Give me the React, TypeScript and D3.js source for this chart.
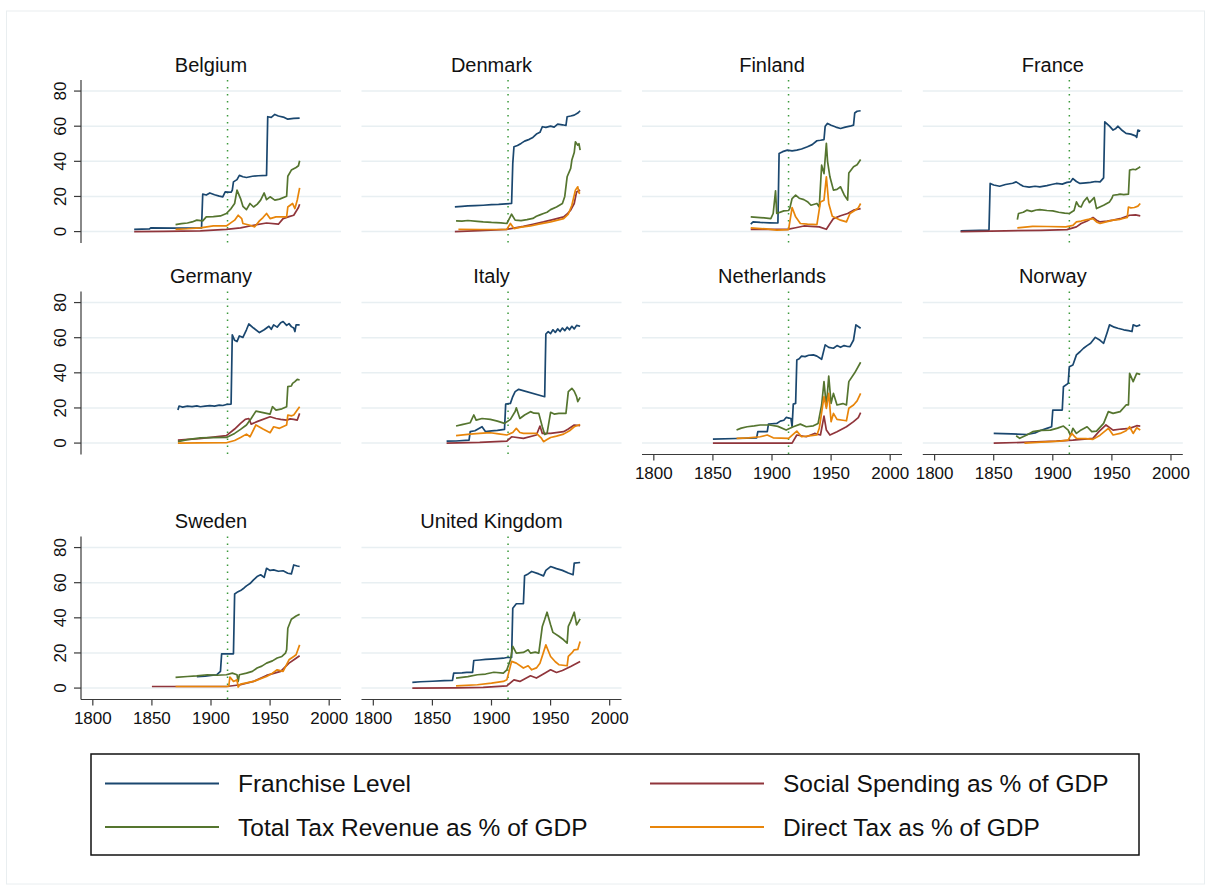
import React from 'react';
import * as d3 from 'd3';

type Pt = [number, number];

// ---- labels, ticks, colours ----
const countries = [
  'Belgium', 'Denmark', 'Finland', 'France', 'Germany',
  'Italy', 'Netherlands', 'Norway', 'Sweden', 'United Kingdom',
];
const seriesNames = [
  'Franchise Level',
  'Social Spending as % of GDP',
  'Total Tax Revenue as % of GDP',
  'Direct Tax as % of GDP',
];
const seriesColors = ['#1a476f', '#90353b', '#55752f', '#e8850a'];
const yTicks = [0, 20, 40, 60, 80];
const xTicks = [1800, 1850, 1900, 1950, 2000];
const markerYear = 1914;

// ---- Belgium ----
const belgiumFranchise: Pt[] = [[1835,1.3],[1848,1.5],[1849,2.1],[1870,2.0],[1892,2.1],[1893,21.3],[1896,20.8],[1899,22.0],[1903,21.0],[1907,20.2],[1910,19.8],[1912,22.6],[1917,22.4],[1918,23.5],[1919,28.3],[1922,29.6],[1924,32.0],[1927,31.2],[1930,30.8],[1935,31.5],[1940,31.8],[1947,32.0],[1948,65.4],[1951,65.0],[1954,66.7],[1957,65.8],[1962,65.0],[1965,64.0],[1970,64.4],[1975,64.6]];
const belgiumSocial: Pt[] = [[1835,0],[1860,0.1],[1891,0.4],[1913,1.3],[1925,2.1],[1936,3.6],[1947,4.9],[1957,4.2],[1961,7.4],[1966,8.5],[1970,9.3],[1974,13.7],[1975,15.6]];
const belgiumTax: Pt[] = [[1870,4.0],[1875,4.5],[1880,4.9],[1884,5.5],[1888,6.5],[1893,6.1],[1896,8.4],[1902,8.5],[1908,8.9],[1913,10.3],[1917,13.1],[1920,16.0],[1922,23.6],[1925,18.8],[1927,14.4],[1930,12.5],[1933,16.0],[1936,14.0],[1939,15.5],[1942,17.9],[1945,22.0],[1947,18.2],[1950,19.8],[1954,17.9],[1958,18.5],[1964,20.1],[1965,31.5],[1968,35.0],[1972,36.5],[1974,37.5],[1975,40.3]];
const belgiumDirect: Pt[] = [[1870,1.3],[1880,1.6],[1891,2.1],[1902,3.2],[1913,3.2],[1917,5.1],[1920,6.5],[1923,9.3],[1926,7.4],[1927,4.6],[1933,3.6],[1937,2.7],[1941,6.1],[1944,8.0],[1947,10.3],[1950,7.4],[1955,8.4],[1964,8.4],[1965,14.0],[1969,16.0],[1971,13.1],[1973,18.0],[1975,24.9]];

// ---- Denmark ----
const denmarkFranchise: Pt[] = [[1869,14.1],[1875,14.4],[1880,14.6],[1886,14.8],[1893,15.0],[1900,15.3],[1906,15.5],[1912,15.8],[1917,16.0],[1918,38.8],[1919,48.3],[1922,49.0],[1925,50.2],[1928,51.5],[1932,52.5],[1935,53.6],[1938,55.5],[1941,56.5],[1943,59.7],[1946,59.3],[1950,60.0],[1953,59.5],[1956,61.2],[1960,60.8],[1963,60.4],[1964,65.4],[1967,65.8],[1970,66.3],[1973,67.5],[1975,68.8]];
const denmarkSocial: Pt[] = [[1869,0],[1890,0.5],[1913,1.3],[1927,3.0],[1935,4.2],[1944,5.5],[1952,6.8],[1961,8.4],[1964,10.0],[1967,12.2],[1970,16.0],[1972,22.6],[1975,23.6]];
const denmarkTax: Pt[] = [[1870,6.1],[1875,6.0],[1880,6.3],[1888,5.8],[1893,5.5],[1900,5.2],[1908,5.0],[1913,4.6],[1917,9.9],[1920,6.5],[1925,6.2],[1930,6.8],[1935,7.5],[1938,8.7],[1941,9.5],[1944,10.3],[1947,11.0],[1950,12.5],[1955,14.0],[1960,16.0],[1962,20.0],[1964,31.2],[1967,36.0],[1968,40.7],[1970,45.0],[1971,51.1],[1973,49.2],[1974,50.0],[1975,46.4]];
const denmarkDirect: Pt[] = [[1872,1.3],[1890,1.2],[1913,1.3],[1916,4.6],[1919,1.7],[1925,2.5],[1933,3.2],[1940,4.2],[1950,5.5],[1961,7.4],[1965,10.0],[1968,15.0],[1971,23.6],[1973,25.5],[1974,22.0],[1975,21.7]];

// ---- Finland ----
const finlandFranchise: Pt[] = [[1882,4.2],[1884,5.5],[1890,5.2],[1898,5.0],[1905,4.9],[1906,44.5],[1909,45.5],[1913,46.4],[1917,46.0],[1921,46.4],[1925,47.0],[1930,48.3],[1934,49.5],[1938,51.7],[1941,52.0],[1944,52.4],[1945,60.0],[1947,61.6],[1950,60.5],[1954,59.5],[1958,58.7],[1962,59.5],[1966,60.0],[1969,60.6],[1970,67.5],[1972,68.5],[1975,68.8]];
const finlandSocial: Pt[] = [[1882,1.3],[1900,1.3],[1913,1.3],[1920,2.2],[1927,3.2],[1933,3.0],[1940,2.7],[1946,1.3],[1949,4.5],[1952,7.4],[1958,9.0],[1964,10.3],[1969,12.2],[1975,13.1]];
const finlandTax: Pt[] = [[1882,8.4],[1890,8.0],[1899,7.4],[1901,10.3],[1903,23.2],[1904,10.3],[1910,11.8],[1914,12.0],[1915,13.1],[1917,18.8],[1920,20.7],[1923,19.0],[1927,18.2],[1930,17.0],[1933,15.0],[1938,16.0],[1940,14.0],[1942,37.8],[1944,33.0],[1946,50.2],[1947,40.0],[1949,31.2],[1952,23.6],[1955,24.0],[1958,25.5],[1961,21.0],[1964,17.9],[1965,33.4],[1969,36.9],[1972,38.0],[1975,41.0]];
const finlandDirect: Pt[] = [[1882,2.1],[1895,1.5],[1904,0.8],[1914,1.1],[1917,13.7],[1920,8.4],[1924,4.6],[1930,4.2],[1938,4.0],[1941,16.9],[1944,17.9],[1946,31.2],[1948,16.0],[1951,8.7],[1955,7.5],[1958,6.5],[1963,5.5],[1966,10.3],[1970,12.0],[1973,13.5],[1975,16.0]];

// ---- France ----
const franceFranchise: Pt[] = [[1822,0.4],[1846,0.8],[1847,27.4],[1850,26.5],[1855,25.8],[1860,26.8],[1866,27.5],[1869,28.3],[1872,27.0],[1875,25.8],[1880,25.3],[1885,25.8],[1889,25.5],[1895,26.2],[1899,26.8],[1903,27.4],[1908,27.0],[1912,28.0],[1915,28.3],[1917,30.2],[1920,28.5],[1923,27.4],[1928,27.7],[1932,28.0],[1936,28.5],[1940,28.3],[1943,30.6],[1944,62.5],[1948,60.0],[1951,57.8],[1953,58.5],[1955,60.0],[1958,58.0],[1962,55.9],[1966,55.5],[1970,54.5],[1971,53.6],[1972,57.8],[1974,57.2]];
const franceSocial: Pt[] = [[1822,0],[1860,0.4],[1890,0.7],[1912,1.1],[1920,2.7],[1924,4.6],[1929,6.0],[1934,8.0],[1937,6.5],[1940,5.5],[1946,6.0],[1951,6.5],[1958,7.5],[1965,9.3],[1970,9.5],[1974,8.9]];
const franceTax: Pt[] = [[1870,6.8],[1871,10.3],[1875,11.0],[1878,12.2],[1882,11.5],[1886,12.3],[1889,12.5],[1895,12.0],[1900,11.8],[1905,11.0],[1910,10.5],[1914,10.3],[1918,12.0],[1920,16.9],[1922,14.5],[1924,14.0],[1926,17.0],[1929,19.4],[1931,16.5],[1933,17.9],[1935,19.4],[1937,13.1],[1943,15.0],[1948,16.9],[1950,19.0],[1951,20.7],[1955,21.0],[1957,21.3],[1960,21.0],[1964,21.3],[1965,35.0],[1968,35.5],[1970,35.2],[1972,36.0],[1974,36.9]];
const franceDirect: Pt[] = [[1870,2.1],[1883,3.0],[1895,2.9],[1911,2.7],[1917,3.5],[1920,5.5],[1924,6.0],[1929,6.8],[1934,7.4],[1937,5.5],[1940,4.6],[1945,5.5],[1951,6.5],[1957,7.0],[1963,8.0],[1964,14.0],[1966,13.5],[1969,13.7],[1972,14.5],[1974,16.0]];

// ---- Germany ----
const germanyFranchise: Pt[] = [[1872,18.8],[1873,21.1],[1876,20.5],[1880,21.0],[1884,20.8],[1888,21.2],[1891,20.7],[1895,21.0],[1899,21.3],[1903,21.0],[1907,21.6],[1910,21.4],[1913,22.0],[1917,22.2],[1918,61.6],[1920,58.5],[1922,57.8],[1924,61.0],[1927,60.2],[1930,64.5],[1932,67.8],[1936,65.5],[1941,62.9],[1945,64.5],[1949,66.5],[1951,64.8],[1953,67.3],[1956,66.0],[1959,68.5],[1961,69.2],[1964,67.0],[1966,68.0],[1968,66.3],[1970,65.5],[1971,63.5],[1972,67.3],[1975,67.3]];
const germanySocial: Pt[] = [[1872,1.7],[1890,2.5],[1900,3.2],[1913,4.2],[1920,8.0],[1925,11.2],[1929,13.5],[1932,14.0],[1934,10.8],[1940,12.5],[1950,15.0],[1955,14.0],[1959,13.5],[1964,13.1],[1967,13.8],[1970,13.5],[1973,13.1],[1975,16.9]];
const germanyTax: Pt[] = [[1872,0.8],[1880,2.0],[1891,3.0],[1900,3.1],[1913,3.2],[1920,5.5],[1925,7.8],[1930,10.3],[1934,14.0],[1938,18.2],[1950,16.5],[1952,20.7],[1955,18.8],[1960,19.5],[1964,20.7],[1965,32.1],[1968,32.5],[1969,34.0],[1971,35.0],[1973,36.3],[1975,35.9]];
const germanyDirect: Pt[] = [[1872,0],[1890,0.1],[1913,0.2],[1920,1.5],[1925,3.2],[1930,5.1],[1933,3.6],[1938,10.3],[1944,8.0],[1950,5.9],[1953,9.3],[1958,8.4],[1964,10.3],[1965,16.0],[1968,15.5],[1970,16.0],[1973,18.8],[1975,20.7]];

// ---- Italy ----
const italyFranchise: Pt[] = [[1862,1.1],[1870,1.2],[1881,1.7],[1882,6.5],[1886,7.0],[1892,9.3],[1895,6.5],[1900,7.0],[1905,7.2],[1911,7.8],[1912,22.2],[1916,22.6],[1918,26.5],[1920,29.3],[1923,30.6],[1945,26.4],[1946,62.1],[1948,63.5],[1950,62.3],[1952,64.5],[1954,63.0],[1956,65.0],[1958,63.5],[1960,65.5],[1962,64.0],[1964,66.0],[1966,64.5],[1968,66.5],[1970,65.0],[1972,67.0],[1975,66.5]];
const italySocial: Pt[] = [[1862,0],[1890,0.4],[1913,1.1],[1917,3.6],[1927,2.7],[1938,4.6],[1941,9.7],[1943,5.5],[1950,5.5],[1961,6.5],[1965,8.0],[1970,10.3],[1975,9.9]];
const italyTax: Pt[] = [[1870,9.7],[1875,10.5],[1882,11.6],[1885,16.0],[1887,13.1],[1892,14.0],[1899,13.5],[1905,12.5],[1911,11.2],[1916,13.5],[1920,18.0],[1921,20.1],[1924,14.0],[1928,16.0],[1933,17.9],[1936,17.0],[1940,16.9],[1943,9.3],[1945,4.9],[1947,5.5],[1950,17.5],[1953,16.5],[1957,16.9],[1963,16.9],[1965,29.3],[1968,31.2],[1970,29.5],[1972,26.4],[1973,23.6],[1975,26.0]];
const italyDirect: Pt[] = [[1870,4.2],[1882,5.1],[1890,5.5],[1899,5.9],[1906,5.2],[1913,4.6],[1918,6.0],[1921,8.4],[1924,6.0],[1927,5.5],[1938,5.5],[1942,3.0],[1944,0.8],[1947,2.0],[1950,3.2],[1955,4.0],[1961,5.1],[1966,7.0],[1970,9.3],[1975,10.6]];

// ---- Netherlands ----
const netherlandsFranchise: Pt[] = [[1850,2.3],[1870,2.6],[1887,3.0],[1888,6.5],[1896,6.5],[1897,10.8],[1900,11.0],[1904,11.2],[1907,12.5],[1910,13.0],[1912,14.6],[1916,14.0],[1917,9.3],[1918,22.2],[1920,22.6],[1921,47.3],[1923,48.0],[1925,49.5],[1928,49.2],[1931,50.0],[1935,50.2],[1938,49.5],[1942,47.7],[1945,55.9],[1948,54.5],[1952,54.0],[1955,55.5],[1958,54.5],[1961,55.5],[1964,55.0],[1966,54.9],[1969,58.7],[1971,67.3],[1975,65.4]];
const netherlandsSocial: Pt[] = [[1850,0],[1917,0],[1921,4.6],[1929,3.6],[1936,5.5],[1941,4.6],[1944,15.4],[1946,7.4],[1949,4.6],[1955,6.5],[1963,9.3],[1969,12.2],[1973,14.5],[1975,17.3]];
const netherlandsTax: Pt[] = [[1870,7.4],[1874,8.5],[1879,9.3],[1885,9.8],[1890,10.3],[1898,10.3],[1905,9.5],[1912,7.4],[1918,9.3],[1924,10.8],[1929,9.3],[1935,9.8],[1939,11.2],[1942,21.7],[1944,35.0],[1946,20.7],[1948,38.2],[1950,22.6],[1952,28.3],[1955,21.7],[1960,22.5],[1963,21.7],[1965,35.0],[1970,40.0],[1975,46.0]];
const netherlandsDirect: Pt[] = [[1870,2.7],[1880,3.0],[1890,3.6],[1896,4.6],[1901,3.0],[1914,2.7],[1921,6.8],[1925,3.6],[1933,4.2],[1938,4.6],[1940,8.4],[1944,26.4],[1946,19.8],[1948,28.3],[1950,12.2],[1952,16.9],[1955,13.5],[1960,13.0],[1963,12.7],[1965,19.8],[1969,21.7],[1972,24.0],[1975,28.3]];

// ---- Norway ----
const norwayFranchise: Pt[] = [[1850,5.5],[1865,5.2],[1878,4.9],[1885,5.8],[1889,7.0],[1895,8.4],[1899,9.3],[1900,18.8],[1908,18.8],[1909,32.1],[1913,34.0],[1914,43.5],[1917,44.5],[1920,50.2],[1923,52.0],[1926,54.0],[1929,55.5],[1932,56.8],[1936,60.2],[1940,58.5],[1943,56.8],[1946,63.0],[1948,67.3],[1952,66.0],[1955,65.4],[1960,64.5],[1964,64.0],[1967,63.5],[1968,67.3],[1971,66.5],[1974,67.3]];
const norwaySocial: Pt[] = [[1850,0],[1880,0.5],[1903,1.1],[1917,1.7],[1934,2.7],[1939,6.5],[1945,10.3],[1951,7.4],[1958,8.0],[1965,8.4],[1971,9.9],[1974,9.7]];
const norwayTax: Pt[] = [[1869,4.2],[1872,2.7],[1878,4.6],[1883,6.5],[1890,7.2],[1898,7.4],[1904,8.5],[1909,9.7],[1913,7.4],[1915,4.2],[1917,8.4],[1920,5.5],[1924,7.5],[1929,9.3],[1933,6.5],[1937,6.8],[1943,11.2],[1947,17.9],[1951,16.9],[1957,17.9],[1962,21.7],[1964,21.7],[1965,39.7],[1968,35.0],[1971,39.7],[1974,39.1]];
const norwayDirect: Pt[] = [[1876,0],[1890,0.5],[1906,1.1],[1913,1.7],[1916,5.5],[1920,2.7],[1928,2.5],[1934,2.1],[1940,4.5],[1947,8.4],[1951,4.6],[1957,5.5],[1962,7.0],[1965,9.3],[1968,5.5],[1971,8.7],[1974,7.4]];

// ---- Sweden ----
const swedenFranchise: Pt[] = [[1888,6.5],[1895,6.8],[1900,7.2],[1905,7.6],[1908,9.5],[1909,19.5],[1919,19.5],[1920,53.6],[1922,54.5],[1925,55.5],[1928,57.0],[1930,58.2],[1933,59.5],[1936,61.6],[1939,63.5],[1942,64.5],[1945,63.0],[1947,68.2],[1950,67.0],[1953,67.3],[1957,66.5],[1961,66.8],[1965,65.4],[1968,65.0],[1970,70.1],[1973,69.5],[1975,69.2]];
const swedenSocial: Pt[] = [[1850,0.9],[1913,0.9],[1925,1.9],[1936,3.8],[1947,7.2],[1959,9.5],[1966,14.2],[1972,17.0],[1975,18.4]];
const swedenTax: Pt[] = [[1870,6.1],[1880,6.6],[1888,7.0],[1897,7.6],[1905,7.3],[1913,7.6],[1918,8.5],[1922,7.6],[1923,3.8],[1924,7.6],[1930,8.5],[1935,9.5],[1939,11.4],[1943,12.5],[1947,14.2],[1952,15.5],[1956,17.1],[1960,18.0],[1963,19.9],[1964,21.8],[1965,34.1],[1968,39.2],[1972,41.0],[1975,42.1]];
const swedenDirect: Pt[] = [[1870,0.9],[1897,0.9],[1915,0.9],[1916,6.3],[1919,3.8],[1922,4.7],[1923,0.6],[1925,2.3],[1936,3.8],[1947,6.6],[1952,8.5],[1956,10.4],[1961,9.5],[1966,16.1],[1970,18.0],[1972,19.0],[1975,24.6]];

// ---- United Kingdom ----
const ukFranchise: Pt[] = [[1833,3.2],[1840,3.6],[1850,3.9],[1860,4.2],[1867,4.4],[1868,8.5],[1875,8.7],[1879,8.9],[1884,8.9],[1885,15.7],[1890,16.0],[1895,16.3],[1899,16.5],[1905,16.8],[1910,17.0],[1913,17.4],[1917,17.4],[1918,45.5],[1921,48.0],[1927,48.0],[1928,63.9],[1931,65.0],[1934,66.4],[1940,65.0],[1944,63.9],[1946,67.0],[1950,69.2],[1955,68.0],[1960,67.0],[1965,65.5],[1969,64.5],[1970,71.1],[1975,71.5]];
const ukSocial: Pt[] = [[1833,0],[1870,0.1],[1893,0.4],[1913,1.3],[1919,4.7],[1924,3.8],[1933,7.0],[1938,5.7],[1945,8.5],[1950,10.4],[1955,8.9],[1960,10.0],[1967,12.3],[1975,15.2]];
const ukTax: Pt[] = [[1870,5.7],[1880,6.5],[1888,7.6],[1895,8.0],[1902,9.0],[1910,8.5],[1913,10.4],[1916,16.1],[1918,23.7],[1921,19.9],[1927,20.3],[1931,21.8],[1933,19.9],[1937,20.5],[1940,19.9],[1943,35.1],[1945,39.0],[1947,43.2],[1950,36.0],[1952,31.7],[1957,29.5],[1961,27.5],[1964,25.6],[1965,35.1],[1967,38.0],[1970,43.2],[1972,36.0],[1975,39.4]];
const ukDirect: Pt[] = [[1870,1.3],[1888,1.9],[1900,2.8],[1910,3.8],[1913,4.7],[1917,15.2],[1921,14.2],[1927,11.4],[1931,12.7],[1934,10.4],[1938,11.5],[1941,14.2],[1946,24.6],[1950,18.0],[1954,15.0],[1957,13.3],[1964,12.7],[1965,18.0],[1968,20.0],[1970,21.8],[1973,22.0],[1975,26.5]];

// series order per panel follows seriesNames
const panelSeries: Pt[][][] = [
  [belgiumFranchise, belgiumSocial, belgiumTax, belgiumDirect],
  [denmarkFranchise, denmarkSocial, denmarkTax, denmarkDirect],
  [finlandFranchise, finlandSocial, finlandTax, finlandDirect],
  [franceFranchise, franceSocial, franceTax, franceDirect],
  [germanyFranchise, germanySocial, germanyTax, germanyDirect],
  [italyFranchise, italySocial, italyTax, italyDirect],
  [netherlandsFranchise, netherlandsSocial, netherlandsTax, netherlandsDirect],
  [norwayFranchise, norwaySocial, norwayTax, norwayDirect],
  [swedenFranchise, swedenSocial, swedenTax, swedenDirect],
  [ukFranchise, ukSocial, ukTax, ukDirect],
];

// ---- layout ----
const W = 1211;
const H = 890;
const FONT = '"Liberation Sans", Arial, Helvetica, sans-serif';
const colLeft = [81, 361.5, 642, 922.8];
const rowTop = [80, 291.5, 536.5];
const plotW = 260;
const plotH = 163;
const xDomain: [number, number] = [1790, 2010];
const yDomain: [number, number] = [-6.5, 86.3];
const gridColor = '#e8eff2';
const axisColor = '#3a3a3a';

function Panel({ index }: { index: number }) {
  const col = index % 4;
  const row = Math.floor(index / 4);
  const left = colLeft[col];
  const top = rowTop[row];
  const x = d3.scaleLinear().domain(xDomain).range([left, left + plotW]);
  const y = d3.scaleLinear().domain(yDomain).range([top + plotH, top]);
  const line = d3
    .line<Pt>()
    .x((d) => x(d[0]))
    .y((d) => y(d[1]));
  const showY = col === 0;
  const showX = index >= 6;
  const bottom = top + plotH;

  return (
    <g>
      <text
        x={left + plotW / 2}
        y={y(80) - 19.5}
        textAnchor="middle"
        fontSize={20}
        fontFamily={FONT}
        fill="#111"
      >
        {countries[index]}
      </text>
      {yTicks.map((t) => (
        <line
          key={'g' + t}
          x1={left}
          x2={left + plotW}
          y1={y(t)}
          y2={y(t)}
          stroke={gridColor}
          strokeWidth={1.5}
        />
      ))}
      <line
        x1={x(markerYear)}
        x2={x(markerYear)}
        y1={top}
        y2={bottom}
        stroke="#3c9a3c"
        strokeWidth={1.5}
        strokeDasharray="1.6,5.4"
      />
      {panelSeries[index].map((s, k) => (
        <path
          key={'s' + k}
          d={line(s) || ''}
          fill="none"
          stroke={seriesColors[k]}
          strokeWidth={1.7}
          strokeLinejoin="round"
        />
      ))}
      {showY && (
        <g>
          <line x1={left} x2={left} y1={top} y2={bottom} stroke={axisColor} strokeWidth={1.2} />
          {yTicks.map((t) => (
            <g key={'yt' + t}>
              <line x1={left - 7} x2={left} y1={y(t)} y2={y(t)} stroke={axisColor} strokeWidth={1.2} />
              <text
                transform={`translate(${left - 15},${y(t)}) rotate(-90)`}
                textAnchor="middle"
                fontSize={17}
                fontFamily={FONT}
                fill="#111"
              >
                {t}
              </text>
            </g>
          ))}
        </g>
      )}
      {showX && (
        <g>
          <line x1={left} x2={left + plotW} y1={bottom} y2={bottom} stroke={axisColor} strokeWidth={1.2} />
          {xTicks.map((t) => (
            <g key={'xt' + t}>
              <line x1={x(t)} x2={x(t)} y1={bottom} y2={bottom + 6} stroke={axisColor} strokeWidth={1.2} />
              <text
                x={x(t)}
                y={bottom + 24}
                textAnchor="middle"
                fontSize={17}
                fontFamily={FONT}
                fill="#111"
              >
                {t}
              </text>
            </g>
          ))}
        </g>
      )}
    </g>
  );
}

function Legend() {
  const box = { x: 91, y: 754, w: 1048, h: 101 };
  const rowsY = [783.5, 827];
  const colsX = [105, 650];
  const order = [0, 1, 2, 3];
  return (
    <g>
      <rect
        x={box.x}
        y={box.y}
        width={box.w}
        height={box.h}
        fill="#fff"
        stroke="#111"
        strokeWidth={1.5}
      />
      {order.map((k, i) => {
        const cx = colsX[i % 2];
        const cy = rowsY[Math.floor(i / 2)];
        return (
          <g key={'lg' + k}>
            <line x1={cx} x2={cx + 114} y1={cy} y2={cy} stroke={seriesColors[k]} strokeWidth={2} />
            <text x={cx + 133} y={cy + 8.5} fontSize={24.5} fontFamily={FONT} fill="#111">
              {seriesNames[k]}
            </text>
          </g>
        );
      })}
    </g>
  );
}

export default function App() {
  return (
    <svg
      width={W}
      height={H}
      viewBox={`0 0 ${W} ${H}`}
      style={{ position: 'absolute', left: 0, top: 0, background: '#fff' }}
    >
      <rect x={0} y={0} width={W} height={H} fill="#fff" />
      <rect x={6.5} y={11} width={1198} height={873} fill="none" stroke="#e9eef0" strokeWidth={1} />
      {countries.map((_, i) => (
        <Panel key={i} index={i} />
      ))}
      <Legend />
    </svg>
  );
}
